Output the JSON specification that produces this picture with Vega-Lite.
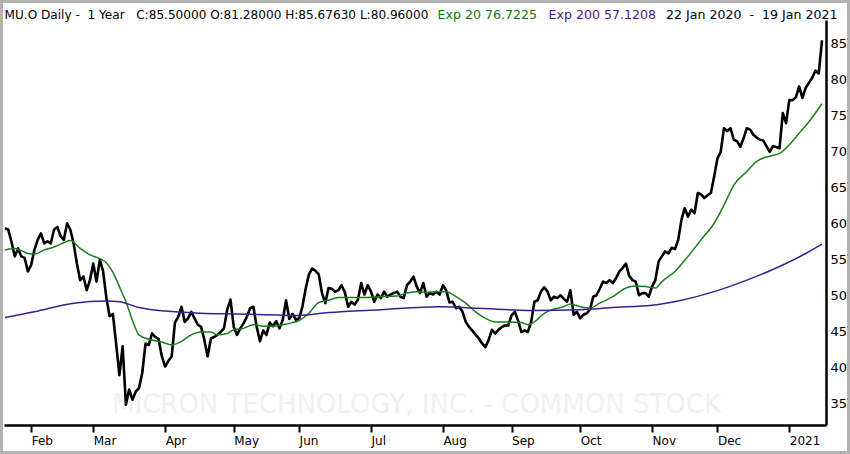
{
  "$schema": "https://vega.github.io/schema/vega-lite/v6.json",
  "width": 850,
  "height": 454,
  "autosize": {"type": "none"},
  "padding": 0,
  "background": "#ffffff",
  "config": {
    "view": {"stroke": "#b2b2b2", "strokeWidth": 6},
    "axis": {"labelFont": "DejaVu Sans", "titleFont": "DejaVu Sans", "grid": false}
  },
  "datasets": {
    "close": [
      {"d":"2020-01-22","c":59.4},{"d":"2020-01-23","c":59.2},{"d":"2020-01-24","c":57.5},{"d":"2020-01-27","c":55.5},{"d":"2020-01-28","c":56.6},
      {"d":"2020-01-29","c":55.5},{"d":"2020-01-30","c":55.3},{"d":"2020-01-31","c":53.4},{"d":"2020-02-03","c":54.3},{"d":"2020-02-04","c":56.4},
      {"d":"2020-02-05","c":57.8},{"d":"2020-02-06","c":58.7},{"d":"2020-02-07","c":57.3},{"d":"2020-02-10","c":57.6},{"d":"2020-02-11","c":57.3},
      {"d":"2020-02-12","c":59.2},{"d":"2020-02-13","c":59.6},{"d":"2020-02-14","c":58.3},{"d":"2020-02-18","c":57.8},{"d":"2020-02-19","c":60.1},
      {"d":"2020-02-20","c":59.2},{"d":"2020-02-21","c":57.3},{"d":"2020-02-24","c":54.5},{"d":"2020-02-25","c":52.2},{"d":"2020-02-26","c":52.7},
      {"d":"2020-02-27","c":50.8},{"d":"2020-02-28","c":52.2},{"d":"2020-03-02","c":54.5},{"d":"2020-03-03","c":52.0},{"d":"2020-03-04","c":55.0},
      {"d":"2020-03-05","c":53.5},{"d":"2020-03-06","c":49.8},{"d":"2020-03-09","c":47.2},{"d":"2020-03-10","c":47.5},{"d":"2020-03-11","c":43.4},
      {"d":"2020-03-12","c":39.0},{"d":"2020-03-13","c":43.0},{"d":"2020-03-16","c":34.9},{"d":"2020-03-17","c":37.0},{"d":"2020-03-18","c":35.6},
      {"d":"2020-03-19","c":36.7},{"d":"2020-03-20","c":37.2},{"d":"2020-03-23","c":39.3},{"d":"2020-03-24","c":43.4},{"d":"2020-03-25","c":43.2},
      {"d":"2020-03-26","c":44.8},{"d":"2020-03-27","c":44.3},{"d":"2020-03-30","c":44.0},{"d":"2020-03-31","c":41.6},{"d":"2020-04-01","c":40.2},
      {"d":"2020-04-02","c":41.0},{"d":"2020-04-03","c":41.6},{"d":"2020-04-06","c":46.3},{"d":"2020-04-07","c":47.1},{"d":"2020-04-08","c":48.5},
      {"d":"2020-04-09","c":46.4},{"d":"2020-04-13","c":46.9},{"d":"2020-04-14","c":47.8},{"d":"2020-04-15","c":46.9},{"d":"2020-04-16","c":46.0},
      {"d":"2020-04-17","c":45.7},{"d":"2020-04-20","c":43.9},{"d":"2020-04-21","c":41.6},{"d":"2020-04-22","c":44.1},{"d":"2020-04-23","c":44.3},
      {"d":"2020-04-24","c":44.6},{"d":"2020-04-27","c":45.0},{"d":"2020-04-28","c":45.5},{"d":"2020-04-29","c":48.1},{"d":"2020-04-30","c":49.5},
      {"d":"2020-05-01","c":45.7},{"d":"2020-05-04","c":44.6},{"d":"2020-05-05","c":45.5},{"d":"2020-05-06","c":46.2},{"d":"2020-05-07","c":47.1},
      {"d":"2020-05-08","c":48.3},{"d":"2020-05-11","c":48.5},{"d":"2020-05-12","c":45.8},{"d":"2020-05-13","c":43.7},{"d":"2020-05-14","c":45.2},
      {"d":"2020-05-15","c":44.6},{"d":"2020-05-18","c":46.3},{"d":"2020-05-19","c":45.8},{"d":"2020-05-20","c":46.5},{"d":"2020-05-21","c":45.5},
      {"d":"2020-05-22","c":46.7},{"d":"2020-05-26","c":49.4},{"d":"2020-05-27","c":46.8},{"d":"2020-05-28","c":47.5},{"d":"2020-05-29","c":46.7},
      {"d":"2020-06-01","c":46.9},{"d":"2020-06-02","c":48.5},{"d":"2020-06-03","c":51.0},{"d":"2020-06-04","c":53.0},{"d":"2020-06-05","c":53.8},
      {"d":"2020-06-08","c":53.5},{"d":"2020-06-09","c":53.0},{"d":"2020-06-10","c":50.4},{"d":"2020-06-11","c":49.0},{"d":"2020-06-12","c":51.1},
      {"d":"2020-06-15","c":51.0},{"d":"2020-06-16","c":50.6},{"d":"2020-06-17","c":50.8},{"d":"2020-06-18","c":51.5},{"d":"2020-06-19","c":50.5},
      {"d":"2020-06-22","c":48.5},{"d":"2020-06-23","c":49.2},{"d":"2020-06-24","c":48.8},{"d":"2020-06-25","c":49.5},{"d":"2020-06-26","c":51.8},
      {"d":"2020-06-29","c":50.2},{"d":"2020-06-30","c":51.5},{"d":"2020-07-01","c":50.6},{"d":"2020-07-02","c":49.2},{"d":"2020-07-06","c":50.2},
      {"d":"2020-07-07","c":49.7},{"d":"2020-07-08","c":50.6},{"d":"2020-07-09","c":49.9},{"d":"2020-07-10","c":50.2},{"d":"2020-07-13","c":50.4},
      {"d":"2020-07-14","c":50.6},{"d":"2020-07-15","c":49.9},{"d":"2020-07-16","c":49.7},{"d":"2020-07-17","c":51.5},{"d":"2020-07-20","c":52.0},
      {"d":"2020-07-21","c":52.7},{"d":"2020-07-22","c":51.3},{"d":"2020-07-23","c":50.4},{"d":"2020-07-24","c":51.8},{"d":"2020-07-27","c":49.9},
      {"d":"2020-07-28","c":50.4},{"d":"2020-07-29","c":50.2},{"d":"2020-07-30","c":50.6},{"d":"2020-07-31","c":50.2},{"d":"2020-08-03","c":51.5},
      {"d":"2020-08-04","c":50.8},{"d":"2020-08-05","c":49.1},{"d":"2020-08-06","c":49.2},{"d":"2020-08-07","c":48.3},{"d":"2020-08-10","c":48.5},
      {"d":"2020-08-11","c":47.8},{"d":"2020-08-12","c":46.4},{"d":"2020-08-13","c":45.7},{"d":"2020-08-14","c":45.2},{"d":"2020-08-17","c":44.6},
      {"d":"2020-08-18","c":44.1},{"d":"2020-08-19","c":43.4},{"d":"2020-08-20","c":42.9},{"d":"2020-08-21","c":43.9},{"d":"2020-08-24","c":45.3},
      {"d":"2020-08-25","c":44.8},{"d":"2020-08-26","c":45.3},{"d":"2020-08-27","c":45.7},{"d":"2020-08-28","c":45.9},{"d":"2020-08-31","c":45.9},
      {"d":"2020-09-01","c":47.3},{"d":"2020-09-02","c":47.8},{"d":"2020-09-03","c":46.6},{"d":"2020-09-04","c":45.0},{"d":"2020-09-08","c":45.2},
      {"d":"2020-09-09","c":45.0},{"d":"2020-09-10","c":46.4},{"d":"2020-09-11","c":49.2},{"d":"2020-09-14","c":49.4},{"d":"2020-09-15","c":50.6},
      {"d":"2020-09-16","c":51.2},{"d":"2020-09-17","c":50.6},{"d":"2020-09-18","c":49.4},{"d":"2020-09-21","c":49.9},{"d":"2020-09-22","c":49.7},
      {"d":"2020-09-23","c":50.1},{"d":"2020-09-24","c":49.6},{"d":"2020-09-25","c":49.2},{"d":"2020-09-28","c":50.8},{"d":"2020-09-29","c":47.4},
      {"d":"2020-09-30","c":47.8},{"d":"2020-10-01","c":46.9},{"d":"2020-10-02","c":47.4},{"d":"2020-10-05","c":47.6},{"d":"2020-10-06","c":48.1},
      {"d":"2020-10-07","c":49.9},{"d":"2020-10-08","c":50.1},{"d":"2020-10-09","c":51.0},{"d":"2020-10-12","c":52.0},{"d":"2020-10-13","c":51.8},
      {"d":"2020-10-14","c":52.2},{"d":"2020-10-15","c":51.8},{"d":"2020-10-16","c":52.5},{"d":"2020-10-19","c":53.4},{"d":"2020-10-20","c":53.9},
      {"d":"2020-10-21","c":54.5},{"d":"2020-10-22","c":52.8},{"d":"2020-10-23","c":52.2},{"d":"2020-10-26","c":52.0},{"d":"2020-10-27","c":50.1},
      {"d":"2020-10-28","c":50.4},{"d":"2020-10-29","c":50.4},{"d":"2020-10-30","c":49.9},{"d":"2020-11-02","c":51.3},{"d":"2020-11-03","c":52.2},
      {"d":"2020-11-04","c":54.8},{"d":"2020-11-05","c":55.5},{"d":"2020-11-06","c":56.2},{"d":"2020-11-09","c":55.9},{"d":"2020-11-10","c":56.7},
      {"d":"2020-11-11","c":56.5},{"d":"2020-11-12","c":57.8},{"d":"2020-11-13","c":60.6},{"d":"2020-11-16","c":62.2},{"d":"2020-11-17","c":61.0},
      {"d":"2020-11-18","c":62.0},{"d":"2020-11-19","c":61.5},{"d":"2020-11-20","c":64.3},{"d":"2020-11-23","c":64.1},{"d":"2020-11-24","c":63.6},
      {"d":"2020-11-25","c":64.0},{"d":"2020-11-27","c":64.3},{"d":"2020-11-30","c":66.6},{"d":"2020-12-01","c":69.1},{"d":"2020-12-02","c":70.0},
      {"d":"2020-12-03","c":73.3},{"d":"2020-12-04","c":72.9},{"d":"2020-12-07","c":73.3},{"d":"2020-12-08","c":71.7},{"d":"2020-12-09","c":71.5},
      {"d":"2020-12-10","c":70.7},{"d":"2020-12-11","c":71.9},{"d":"2020-12-14","c":73.3},{"d":"2020-12-15","c":73.1},{"d":"2020-12-16","c":72.4},
      {"d":"2020-12-17","c":72.0},{"d":"2020-12-18","c":71.7},{"d":"2020-12-21","c":71.6},{"d":"2020-12-22","c":70.8},{"d":"2020-12-23","c":70.0},
      {"d":"2020-12-24","c":70.8},{"d":"2020-12-28","c":70.7},{"d":"2020-12-29","c":70.5},{"d":"2020-12-30","c":75.4},{"d":"2020-12-31","c":74.0},
      {"d":"2021-01-04","c":77.2},{"d":"2021-01-05","c":77.2},{"d":"2021-01-06","c":77.6},{"d":"2021-01-07","c":79.1},{"d":"2021-01-08","c":77.5},
      {"d":"2021-01-11","c":78.9},{"d":"2021-01-12","c":79.6},{"d":"2021-01-13","c":80.3},{"d":"2021-01-14","c":81.3},{"d":"2021-01-15","c":80.9},
      {"d":"2021-01-19","c":85.5}
    ],
    "ema20": [
      {"d":"2020-01-22","v":56.4},{"d":"2020-01-27","v":56.6},{"d":"2020-01-29","v":56.3},{"d":"2020-01-31","v":55.9},{"d":"2020-02-04","v":55.8},
      {"d":"2020-02-07","v":56.4},{"d":"2020-02-12","v":56.8},{"d":"2020-02-18","v":57.4},{"d":"2020-02-20","v":57.7},{"d":"2020-02-25","v":56.6},
      {"d":"2020-02-28","v":55.7},{"d":"2020-03-04","v":55.2},{"d":"2020-03-06","v":54.6},{"d":"2020-03-10","v":53.3},{"d":"2020-03-12","v":51.3},
      {"d":"2020-03-16","v":49.2},{"d":"2020-03-18","v":46.6},{"d":"2020-03-20","v":44.6},{"d":"2020-03-25","v":44.0},{"d":"2020-03-31","v":43.6},
      {"d":"2020-04-03","v":43.2},{"d":"2020-04-08","v":43.7},{"d":"2020-04-14","v":44.6},{"d":"2020-04-17","v":45.0},{"d":"2020-04-22","v":45.0},
      {"d":"2020-04-24","v":44.6},{"d":"2020-04-29","v":44.8},{"d":"2020-05-01","v":45.3},{"d":"2020-05-06","v":45.5},{"d":"2020-05-11","v":46.0},
      {"d":"2020-05-14","v":45.8},{"d":"2020-05-19","v":45.8},{"d":"2020-05-22","v":46.0},{"d":"2020-05-28","v":46.3},{"d":"2020-06-01","v":46.6},
      {"d":"2020-06-04","v":47.6},{"d":"2020-06-09","v":49.1},{"d":"2020-06-12","v":49.4},{"d":"2020-06-17","v":49.8},{"d":"2020-06-23","v":49.8},
      {"d":"2020-06-29","v":49.8},{"d":"2020-07-07","v":49.9},{"d":"2020-07-14","v":50.0},{"d":"2020-07-17","v":50.4},{"d":"2020-07-22","v":50.6},
      {"d":"2020-07-27","v":50.5},{"d":"2020-07-30","v":50.6},{"d":"2020-08-04","v":50.6},{"d":"2020-08-07","v":49.9},{"d":"2020-08-12","v":49.0},
      {"d":"2020-08-17","v":47.8},{"d":"2020-08-20","v":46.9},{"d":"2020-08-25","v":46.4},{"d":"2020-08-31","v":46.4},{"d":"2020-09-04","v":46.3},
      {"d":"2020-09-09","v":46.0},{"d":"2020-09-11","v":46.4},{"d":"2020-09-16","v":47.6},{"d":"2020-09-21","v":48.2},{"d":"2020-09-24","v":48.5},
      {"d":"2020-09-28","v":48.9},{"d":"2020-10-01","v":48.5},{"d":"2020-10-06","v":48.3},{"d":"2020-10-09","v":49.0},{"d":"2020-10-15","v":49.9},
      {"d":"2020-10-21","v":51.1},{"d":"2020-10-26","v":51.4},{"d":"2020-10-29","v":51.3},{"d":"2020-11-03","v":51.1},{"d":"2020-11-05","v":52.0},
      {"d":"2020-11-11","v":53.4},{"d":"2020-11-17","v":55.5},{"d":"2020-11-23","v":57.8},{"d":"2020-11-30","v":60.1},{"d":"2020-12-03","v":62.6},
      {"d":"2020-12-08","v":65.4},{"d":"2020-12-14","v":67.3},{"d":"2020-12-17","v":68.7},{"d":"2020-12-22","v":69.3},{"d":"2020-12-29","v":69.8},
      {"d":"2021-01-04","v":71.0},{"d":"2021-01-07","v":72.6},{"d":"2021-01-12","v":74.2},{"d":"2021-01-19","v":76.7}
    ],
    "ema200": [
      {"d":"2020-01-22","v":47.0},{"d":"2020-02-04","v":47.8},{"d":"2020-02-21","v":49.0},{"d":"2020-03-06","v":49.3},{"d":"2020-03-12","v":49.2},
      {"d":"2020-03-20","v":48.4},{"d":"2020-04-01","v":47.9},{"d":"2020-04-17","v":47.6},{"d":"2020-05-01","v":47.5},{"d":"2020-05-15","v":47.4},
      {"d":"2020-06-01","v":47.3},{"d":"2020-06-12","v":47.7},{"d":"2020-07-07","v":48.1},{"d":"2020-07-31","v":48.5},{"d":"2020-08-18","v":48.3},
      {"d":"2020-09-10","v":48.0},{"d":"2020-10-01","v":48.1},{"d":"2020-10-15","v":48.4},{"d":"2020-11-02","v":48.7},{"d":"2020-11-13","v":49.4},
      {"d":"2020-11-30","v":50.6},{"d":"2020-12-14","v":52.2},{"d":"2020-12-29","v":54.1},{"d":"2021-01-11","v":55.9},{"d":"2021-01-19","v":57.2}
    ]
  },
  "layer": [
    {
      "data": {"name": "close"},
      "mark": {"type": "line", "strokeWidth": 2.6, "strokeJoin": "round", "color": "#000000"},
      "encoding": {
        "x": {
          "field": "d",
          "type": "ordinal",
          "scale": {"type": "point", "range": [4, 826], "padding": 0.765, "align": 0.2},
          "axis": {
            "orient": "bottom",
            "offset": -29,
            "values": ["2020-02-03","2020-03-02","2020-04-01","2020-05-01","2020-06-01","2020-07-01","2020-08-03","2020-09-01","2020-10-01","2020-11-02","2020-12-01","2021-01-04"],
            "labelExpr": "utcyear(toDate(datum.value)) > 2020 ? '2021' : utcFormat(toDate(datum.value), '%b')",
            "labelAngle": 0,
            "labelAlign": "left",
            "labelBaseline": "top",
            "labelPadding": 3,
            "labelFontSize": 12,
            "labelColor": "#000000",
            "labelOverlap": false,
            "labelBound": false,
            "labelFlush": false,
            "domainColor": "#000000",
            "domainWidth": 2.5,
            "tickColor": "#000000",
            "tickWidth": 2,
            "tickSize": 7,
            "title": "MICRON TECHNOLOGY, INC. - COMMON STOCK",
            "titleX": 416,
            "titleY": -21,
            "titleAlign": "center",
            "titleBaseline": "middle",
            "titleColor": "#f1f1f1",
            "titleFontSize": 26,
            "titleFontWeight": "normal"
          }
        },
        "y": {
          "field": "c",
          "type": "quantitative",
          "scale": {"domain": [32.08, 88.33], "range": [425, 20], "nice": false, "zero": false},
          "axis": {
            "orient": "right",
            "offset": -24,
            "values": [35, 40, 45, 50, 55, 60, 65, 70, 75, 80, 85],
            "ticks": false,
            "tickSize": 0,
            "labelPadding": 4,
            "labelFontSize": 13,
            "labelColor": "#000000",
            "labelAlign": "left",
            "labelBaseline": "middle",
            "labelBound": false,
            "labelFlush": false,
            "domainColor": "#000000",
            "domainWidth": 2.5,
            "title": null
          }
        }
      }
    },
    {
      "data": {"name": "ema20"},
      "mark": {"type": "line", "strokeWidth": 1.5, "interpolate": "monotone", "color": "#1d7d1d"},
      "encoding": {
        "x": {
          "field": "d",
          "type": "ordinal",
          "axis": {
            "orient": "top",
            "domain": false,
            "ticks": false,
            "labels": false,
            "title": "22 Jan 2020\u00a0 -\u00a0 19 Jan 2021",
            "titleX": 837,
            "titleY": 18,
            "titleAlign": "right",
            "titleBaseline": "alphabetic",
            "titleFontSize": 12.6,
            "titleFontWeight": "normal",
            "titleColor": "#000000"
          }
        },
        "y": {
          "field": "v",
          "type": "quantitative",
          "axis": {
            "orient": "left",
            "domain": false,
            "ticks": false,
            "labels": false,
            "title": "Exp 20 76.7225",
            "titleAngle": 0,
            "titleX": 437,
            "titleY": 18,
            "titleAlign": "left",
            "titleBaseline": "alphabetic",
            "titleFontSize": 12.6,
            "titleFontWeight": "normal",
            "titleColor": "#0d7a0d"
          }
        }
      }
    },
    {
      "data": {"name": "ema200"},
      "mark": {"type": "line", "strokeWidth": 1.5, "interpolate": "monotone", "color": "#3b1f8e"},
      "encoding": {
        "x": {
          "field": "d",
          "type": "ordinal",
          "axis": {
            "orient": "top",
            "domain": false,
            "ticks": false,
            "labels": false,
            "title": "Exp 200 57.1208",
            "titleX": 548,
            "titleY": 18,
            "titleAlign": "left",
            "titleBaseline": "alphabetic",
            "titleFontSize": 12.6,
            "titleFontWeight": "normal",
            "titleColor": "#4a1a8c"
          }
        },
        "y": {
          "field": "v",
          "type": "quantitative",
          "axis": {
            "orient": "left",
            "domain": false,
            "ticks": false,
            "labels": false,
            "title": "MU.O Daily -\u00a0 1 Year\u00a0\u00a0 C:85.50000 O:81.28000 H:85.67630 L:80.96000",
            "titleAngle": 0,
            "titleX": 4,
            "titleY": 18,
            "titleAlign": "left",
            "titleBaseline": "alphabetic",
            "titleFontSize": 12.1,
            "titleFontWeight": "normal",
            "titleColor": "#000000"
          }
        }
      }
    }
  ],
  "resolve": {"axis": {"x": "independent", "y": "independent"}}
}
